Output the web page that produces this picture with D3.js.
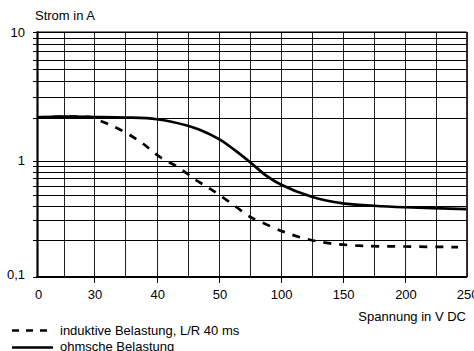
<!DOCTYPE html>
<html>
<head>
<meta charset="utf-8">
<script src="https://cdn.jsdelivr.net/npm/d3@7"></script>
<style>
  body { margin: 0; background: #fff; }
  svg { display: block; }
  text { font-family: "Liberation Sans", Arial, sans-serif; font-size: 13px; fill: #000; }
</style>
</head>
<body>
<div id="chart"></div>
<script>
// values
var xGrid = [0, 15, 30, 35, 40, 45, 50, 75, 100, 125, 150, 175, 200, 225, 250];
var xTickLabels = [0, 30, 40, 50, 100, 150, 200, 250];
var yGrid = [0.1, 0.2, 0.3, 0.4, 0.5, 0.6, 0.7, 0.8, 0.9, 1, 2, 3, 4, 5, 6, 7, 8, 9, 10];
var yTickLabels = [10, 1, 0.1];

var voltOhmic = [0, 15, 30, 35, 40, 45, 47, 50, 62, 75, 88, 100, 125, 150, 175, 200, 250];
var ampOhmic  = [2.04, 2.06, 2.05, 2.03, 1.97, 1.77, 1.65, 1.42, 1.20, 0.97, 0.74, 0.615, 0.48, 0.42, 0.40, 0.388, 0.374];

var voltInductive = [0, 15, 30, 31, 33, 35.7, 38, 40.5, 43.5, 46, 48, 50, 64, 75, 80.5, 102, 121, 140, 166, 200, 243];
var ampInductive  = [2.04, 2.06, 2.02, 1.92, 1.76, 1.52, 1.3, 1.06, 0.87, 0.69, 0.59, 0.50, 0.39, 0.32, 0.30, 0.237, 0.204, 0.188, 0.179, 0.177, 0.175];

var legendLabels = ["induktive Belastung, L/R 40 ms", "ohmsche Belastung"];

var W = 474, H = 351;
var plotLeft = 37.5, plotRight = 466.7, plotTop = 32.3, plotBottom = 277;

var svg = d3.select("#chart").append("svg")
    .attr("width", W).attr("height", H);

// the voltage axis is stretched piecewise, like on the data sheet
var x = d3.scaleLinear()
    .domain([0, 15, 30, 40, 50, 100, 150, 200, 250])
    .range([plotLeft, 63.5, 94, 156.7, 219, 280.7, 342.7, 405, plotRight]);

var y = d3.scaleLog()
    .domain([0.1, 0.2, 1, 2, 10])
    .range([plotBottom, 240, 160.5, 118.3, plotTop]);

function px(v) { return Math.round(v) + 0.5; }

var grid = svg.append("g").attr("shape-rendering", "crispEdges");

//vertical grid lines
grid.selectAll("line.v").data(xGrid.slice(1)).enter().append("line")
    .attr("class", "v")
    .attr("x1", function (d) { return px(x(d)); })
    .attr("x2", function (d) { return px(x(d)); })
    .attr("y1", plotTop).attr("y2", plotBottom)
    .attr("stroke", "#222").attr("stroke-width", 1);

//horizontal grid lines, with small ticks left of the axis
grid.selectAll("line.h").data(yGrid).enter().append("line")
    .attr("class", "h")
    .attr("x1", plotLeft - 5).attr("x2", plotRight)
    .attr("y1", function (d) { return px(y(d)); })
    .attr("y2", function (d) { return px(y(d)); })
    .attr("stroke", "#000").attr("stroke-width", 1);

// ticks below the x axis
grid.selectAll("line.xt").data(xTickLabels.slice(1, -1)).enter().append("line")
    .attr("class", "xt")
    .attr("x1", function (d) { return px(x(d)); })
    .attr("x2", function (d) { return px(x(d)); })
    .attr("y1", plotBottom).attr("y2", plotBottom + 6)
    .attr("stroke", "#000");

// curves
var line = d3.line()
    .x(function (d) { return x(d[0]); })
    .y(function (d) { return y(d[1]); })
    .curve(d3.curveCatmullRom.alpha(0.5));

var inductive = d3.zip(voltInductive, ampInductive);
var ohmic = d3.zip(voltOhmic, ampOhmic);

svg.append("path").datum(inductive)
    .attr("d", line)
    .attr("fill", "none").attr("stroke", "#000")
    .attr("stroke-width", 2.7).attr("stroke-dasharray", "8,8");

svg.append("path").datum(ohmic)
    .attr("d", line)
    .attr("fill", "none").attr("stroke", "#000")
    .attr("stroke-width", 2.7);

// frame: thick left and bottom axis
svg.append("line").attr("x1", plotLeft).attr("x2", plotLeft).attr("y1", plotTop - 1).attr("y2", plotBottom + 1)
    .attr("stroke", "#000").attr("stroke-width", 2.2);
svg.append("line").attr("x1", plotLeft - 1).attr("x2", plotRight + 0.5).attr("y1", plotBottom).attr("y2", plotBottom)
    .attr("stroke", "#000").attr("stroke-width", 2.2);
svg.append("line").attr("x1", plotLeft).attr("x2", plotRight).attr("y1", plotTop).attr("y2", plotTop)
    .attr("stroke", "#000").attr("stroke-width", 1.4);
svg.append("line").attr("x1", plotRight).attr("x2", plotRight).attr("y1", plotTop).attr("y2", plotBottom)
    .attr("stroke", "#222").attr("stroke-width", 1.2);

// tick labels
svg.selectAll("text.ylab").data(yTickLabels).enter().append("text")
    .attr("class", "ylab")
    .attr("x", 25)
    .attr("y", function (d) { return Math.min(y(d) + 4.5, 279); })
    .attr("text-anchor", "end")
    .text(function (d) { return d < 1 ? String(d).replace(".", ",") : d; });

svg.selectAll("text.xlab").data(xTickLabels).enter().append("text")
    .attr("class", "xlab")
    .attr("x", function (d) { return x(d) + 1; })
    .attr("y", 299)
    .attr("text-anchor", "middle")
    .text(function (d) { return d; });

svg.append("text").attr("x", 35).attr("y", 20).text("Strom in A");
svg.append("text").attr("x", 466).attr("y", 321).attr("text-anchor", "end").text("Spannung in V DC");

// legend
var leg = svg.append("g");
leg.append("line").attr("x1", 12).attr("x2", 53).attr("y1", 330.5).attr("y2", 330.5)
    .attr("stroke", "#000").attr("stroke-width", 2.6).attr("stroke-dasharray", "7,7");
leg.append("line").attr("x1", 12).attr("x2", 53).attr("y1", 347.5).attr("y2", 347.5)
    .attr("stroke", "#000").attr("stroke-width", 2.6);
leg.selectAll("text").data(legendLabels).enter().append("text")
    .attr("x", 60)
    .attr("y", function (d, i) { return 334.5 + i * 16; })
    .text(function (d) { return d; });
</script>
</body>
</html>
